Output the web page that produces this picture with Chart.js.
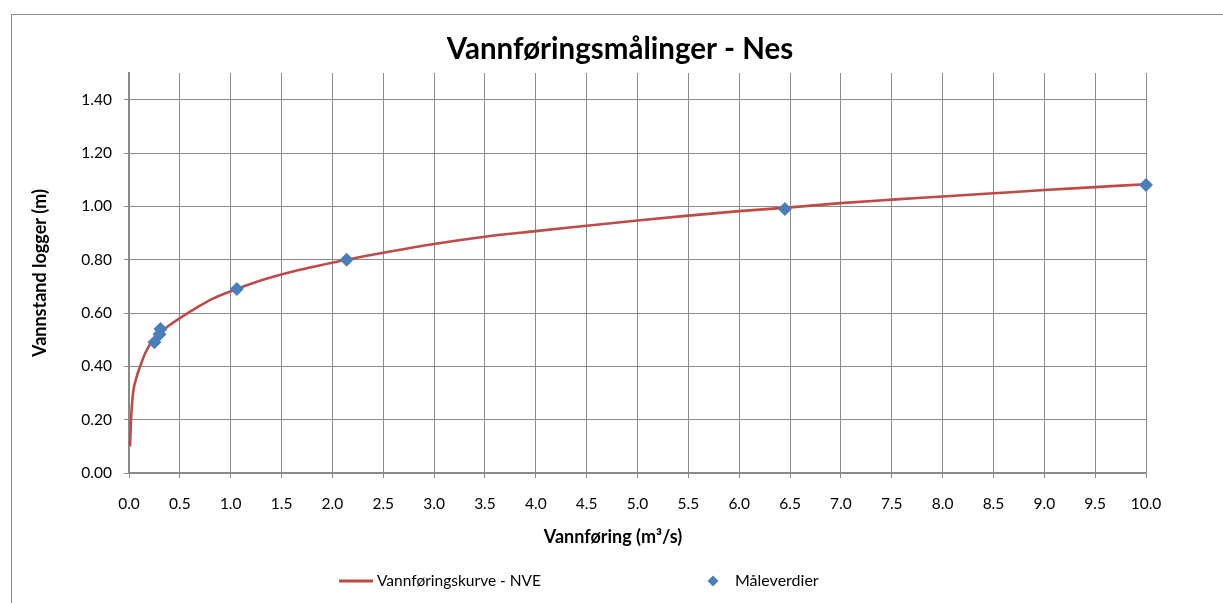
<!DOCTYPE html>
<html>
<head>
<meta charset="utf-8">
<title>Vannføringsmålinger - Nes</title>
<script src="https://cdn.jsdelivr.net/npm/chart.js@4.4.1/dist/chart.umd.min.js"></script>
<style>
  html, body { margin: 0; padding: 0; background: #ffffff; }
  #wrap { position: relative; width: 1223px; height: 603px; overflow: hidden; }
  canvas { display: block; }
</style>
</head>
<body>
<div id="wrap"><canvas id="chart" width="1223" height="603"></canvas></div>
<script>
// Rating curve (discharge m³/s vs. logger stage m)
const curveQ = [0.01, 0.02, 0.04, 0.075, 0.11, 0.16, 0.21, 0.30, 0.40, 0.57, 0.63, 0.83, 1.06, 1.35, 1.68, 2.14,
                2.5, 3.0, 3.5, 4.0, 4.5, 5.0, 5.5, 6.0, 6.5, 7.0, 7.5, 8.0, 8.5, 9.0, 9.5, 10.0];
const curveH = [0.10, 0.20, 0.30, 0.36, 0.40, 0.45, 0.485, 0.525, 0.555, 0.598, 0.612, 0.655, 0.69, 0.728, 0.762, 0.80,
                0.826, 0.859, 0.886, 0.907, 0.927, 0.947, 0.965, 0.982, 0.996, 1.012, 1.025, 1.037, 1.049, 1.061, 1.072, 1.083];

// Field measurements
const measQ = [0.25, 0.30, 0.31, 1.06, 2.14, 6.45, 10.0];
const measH = [0.49, 0.52, 0.54, 0.69, 0.80, 0.99, 1.08];

// Axis setup and labels
const xMin = 0, xMax = 10, xStep = 0.5;
const yMin = 0, yMax = 1.5, yStep = 0.2;
const titleText = 'Vannføringsmålinger - Nes';
const xTitle = 'Vannføring (m³/s)';
const yTitle = 'Vannstand logger (m)';
const curveLabel = 'Vannføringskurve - NVE';
const measLabel = 'Måleverdier';

const FONT = 'Lato, "Open Sans", sans-serif';
const lineColor = '#be4b48';
const pointColor = '#4a7ebb';
const gridColor = '#8a8a8a';

const curveData = curveQ.map((q, i) => ({ x: q, y: curveH[i] }));
const measData = measQ.map((q, i) => ({ x: q, y: measH[i] }));

// Frame, titles and legend drawn around the plot
const decorations = {
  id: 'decorations',
  beforeDraw(chart) {
    const ctx = chart.ctx;
    ctx.save();
    ctx.fillStyle = '#ffffff';
    ctx.fillRect(0, 0, chart.width, chart.height);
    ctx.strokeStyle = '#8c8c8c';
    ctx.lineWidth = 1;
    ctx.strokeRect(11.5, 14.5, 1400, 800);
    ctx.restore();
  },
  afterDraw(chart) {
    const ctx = chart.ctx;
    const area = chart.chartArea;
    ctx.save();
    ctx.fillStyle = '#000000';
    ctx.textAlign = 'center';
    ctx.textBaseline = 'alphabetic';
    ctx.font = 'bold 29.5px ' + FONT;
    ctx.fillText(titleText, 620, 59);

    ctx.font = 'bold 18px ' + FONT;
    ctx.fillText(xTitle, 613, 543);

    ctx.save();
    ctx.translate(46, (area.top + area.bottom) / 2);
    ctx.rotate(-Math.PI / 2);
    ctx.fillText(yTitle, 0, 0);
    ctx.restore();

    // legend
    const ly = 581;
    ctx.strokeStyle = lineColor;
    ctx.lineWidth = 3;
    ctx.beginPath();
    ctx.moveTo(339, ly);
    ctx.lineTo(373, ly);
    ctx.stroke();
    ctx.font = '15.5px ' + FONT;
    ctx.textAlign = 'left';
    ctx.textBaseline = 'middle';
    ctx.fillText(curveLabel, 377, ly);

    ctx.fillStyle = pointColor;
    const dx = 713, r = 5.5;
    ctx.beginPath();
    ctx.moveTo(dx, ly - r);
    ctx.lineTo(dx + r, ly);
    ctx.lineTo(dx, ly + r);
    ctx.lineTo(dx - r, ly);
    ctx.closePath();
    ctx.fill();
    ctx.fillStyle = '#000000';
    ctx.font = '16px ' + FONT;
    ctx.fillText(measLabel, 735, ly);
    ctx.restore();
  }
};

new Chart(document.getElementById('chart'), {
  type: 'scatter',
  data: {
    datasets: [
      {
        label: curveLabel,
        data: curveData,
        showLine: true,
        borderColor: lineColor,
        borderWidth: 2.6,
        pointRadius: 0,
        pointHoverRadius: 0,
        cubicInterpolationMode: 'monotone',
        clip: false,
        order: 2
      },
      {
        label: measLabel,
        data: measData,
        showLine: false,
        pointStyle: 'rectRot',
        pointRadius: 7,
        backgroundColor: pointColor,
        borderColor: pointColor,
        borderWidth: 0,
        clip: false,
        order: 1
      }
    ]
  },
  options: {
    responsive: false,
    animation: false,
    devicePixelRatio: 1,
    layout: { padding: { left: 0, right: 77, top: 73, bottom: 0 } },
    plugins: {
      legend: { display: false },
      title: { display: false },
      tooltip: { enabled: false }
    },
    scales: {
      x: {
        type: 'linear',
        min: xMin,
        max: xMax,
        afterFit(scale) { scale.height = 130; },
        ticks: {
          stepSize: xStep,
          color: '#000000',
          font: { family: FONT, size: 15.5 },
          padding: 17,
          maxRotation: 0,
          autoSkip: false,
          callback: v => Number(v).toFixed(1)
        },
        grid: { color: gridColor, lineWidth: 1, tickLength: 5, drawOnChartArea: true },
        border: { color: gridColor, width: 2 }
      },
      y: {
        type: 'linear',
        min: yMin,
        max: yMax,
        afterFit(scale) { scale.width = 129; },
        ticks: {
          stepSize: yStep,
          includeBounds: false,
          color: '#000000',
          font: { family: FONT, size: 15.5 },
          padding: 12,
          callback: v => Number(v).toFixed(2)
        },
        grid: { color: gridColor, lineWidth: 1, tickLength: 5 },
        border: { color: gridColor, width: 2 }
      }
    }
  },
  plugins: [decorations]
});
</script>
</body>
</html>
